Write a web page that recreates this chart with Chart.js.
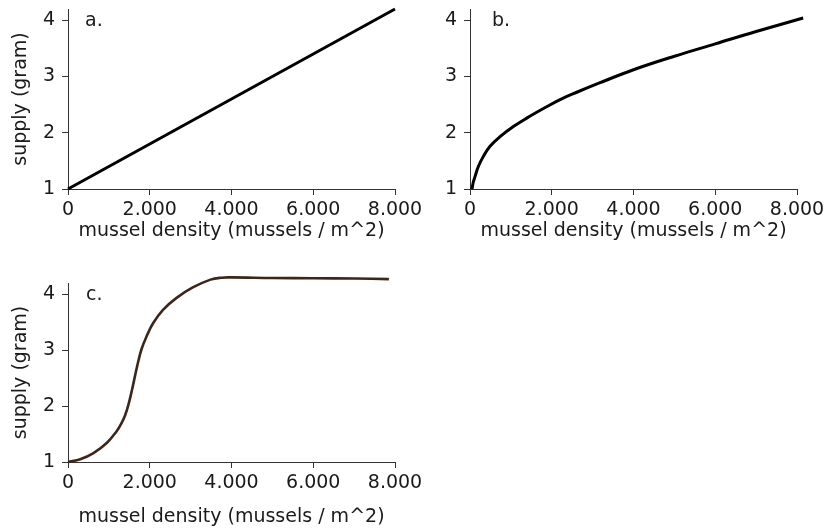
<!DOCTYPE html>
<html>
<head>
<meta charset="utf-8">
<script src="https://cdn.jsdelivr.net/npm/chart.js@4.4.1/dist/chart.umd.min.js"></script>
<style>
body { margin: 0; background: #fff; }
#wrap { position: relative; width: 828px; height: 529px; }
canvas { position: absolute; left: 0; top: 0; }
</style>
</head>
<body>
<div id="wrap">
<canvas id="chartA" width="828" height="529"></canvas>
<canvas id="chartB" width="828" height="529"></canvas>
<canvas id="chartC" width="828" height="529"></canvas>
</div>
<script>
// panel a: linear
const densityA = [0, 8000]
const supplyA = [1, 4.2]

// panel b: saturating
const densityB = [49, 80, 122, 204, 327, 490, 735, 1061, 1388, 1796, 2204, 2612, 3184, 4000, 5000, 6000, 7000, 8150]
const supplyB = [1.0, 1.12, 1.22, 1.4, 1.58, 1.76, 1.93, 2.11, 2.26, 2.43, 2.59, 2.72, 2.89, 3.12, 3.36, 3.58, 3.8, 4.04]

// panel c: sigmoid
const densityC = [0, 300, 623, 947, 1190, 1300, 1400, 1480, 1560, 1640, 1720, 1800, 1919, 2081, 2324, 2648, 3053, 3486, 3750, 4000, 5000, 6000, 7000, 7850]
const supplyC = [1.0, 1.05, 1.16, 1.34, 1.55, 1.68, 1.84, 2.03, 2.27, 2.54, 2.8, 3.02, 3.24, 3.48, 3.72, 3.93, 4.12, 4.26, 4.295, 4.3, 4.29, 4.285, 4.28, 4.27]

const xTicks = [0, 2000, 4000, 6000, 8000]
const yTicks = [1, 2, 3, 4]
const xTitle = "mussel density (mussels / m^2)"
const yTitle = "supply (gram)"

const W = 828
const H = 529
const fontFamily = '"DejaVu Sans", sans-serif'
const fontSize = 19
const textColor = "#1a1a1a"
const axisColor = "#333"

const panelLabel = {
    id: "panelLabel",
    afterDraw(chart, args, opts) {
        const { ctx, chartArea, scales } = chart
        ctx.save()
        ctx.font = fontSize + "px " + fontFamily
        ctx.fillStyle = textColor
        ctx.textBaseline = "alphabetic"
        ctx.fillText(opts.text, chartArea.left + opts.dx, scales.y.getPixelForValue(4) + 6)
        ctx.restore()
    }
}

function makeChart(id, xs, ys, p) {
    const points = xs.map((x, i) => ({ x: x, y: ys[i] }))
    const config = {
        type: "scatter",
        data: {
            datasets: [{
                data: points,
                showLine: true,
                borderColor: p.color,
                borderWidth: p.lineWidth,
                pointRadius: 0,
                tension: 0.4,
                clip: false
            }]
        },
        options: {
            responsive: false,
            animation: false,
            events: [],
            layout: {
                padding: {
                    left: p.area.left - p.yWidth,
                    top: p.area.top,
                    right: W - p.area.right,
                    bottom: H - p.area.bottom - p.xHeight
                }
            },
            plugins: {
                legend: { display: false },
                tooltip: { enabled: false },
                panelLabel: { text: p.label, dx: p.labelDx }
            },
            scales: {
                x: {
                    type: "linear",
                    min: 0,
                    max: 8000,
                    afterBuildTicks: (scale) => { scale.ticks = xTicks.map(v => ({ value: v })) },
                    afterFit: (scale) => {
                        scale.height = p.xHeight
                        scale.paddingLeft = 0
                        scale.paddingRight = 0
                    },
                    grid: { drawOnChartArea: false, drawTicks: true, tickLength: 6, color: axisColor },
                    border: { display: true, color: axisColor, width: 1 },
                    ticks: {
                        padding: 4,
                        color: textColor,
                        font: { family: fontFamily, size: fontSize },
                        maxRotation: 0,
                        callback: (v) => v === 0 ? "0" : (v / 1000) + ".000"
                    },
                    title: {
                        display: true,
                        text: xTitle,
                        color: textColor,
                        font: { family: fontFamily, size: fontSize },
                        padding: { top: 0, bottom: p.xTitlePad }
                    }
                },
                y: {
                    type: "linear",
                    min: 1,
                    max: 4.2,
                    afterBuildTicks: (scale) => { scale.ticks = yTicks.map(v => ({ value: v })) },
                    afterFit: (scale) => {
                        scale.width = p.yWidth
                        scale.paddingTop = 0
                        scale.paddingBottom = 0
                    },
                    grid: { drawOnChartArea: false, drawTicks: true, tickLength: 6, color: axisColor },
                    border: { display: true, color: axisColor, width: 1 },
                    ticks: {
                        padding: 7,
                        color: textColor,
                        font: { family: fontFamily, size: fontSize }
                    },
                    title: {
                        display: p.showYTitle,
                        text: yTitle,
                        color: textColor,
                        font: { family: fontFamily, size: fontSize },
                        padding: { top: 10, bottom: 0 }
                    }
                }
            }
        },
        plugins: [panelLabel]
    }
    return new Chart(document.getElementById(id), config)
}

makeChart("chartA", densityA, supplyA, {
    area: { left: 68, right: 395, top: 9, bottom: 189 },
    yWidth: 68, xHeight: 60, xTitlePad: 6.5,
    showYTitle: true, color: "#000", lineWidth: 3, label: "a.", labelDx: 17
})
makeChart("chartB", densityB, supplyB, {
    area: { left: 470, right: 797, top: 9, bottom: 189 },
    yWidth: 60, xHeight: 60, xTitlePad: 6.5,
    showYTitle: false, color: "#000", lineWidth: 3, label: "b.", labelDx: 22
})
makeChart("chartC", densityC, supplyC, {
    area: { left: 68, right: 395, top: 283, bottom: 462 },
    yWidth: 68, xHeight: 66, xTitlePad: 0,
    showYTitle: true, color: "#3d2618", lineWidth: 2.6, label: "c.", labelDx: 18
})
</script>
</body>
</html>
